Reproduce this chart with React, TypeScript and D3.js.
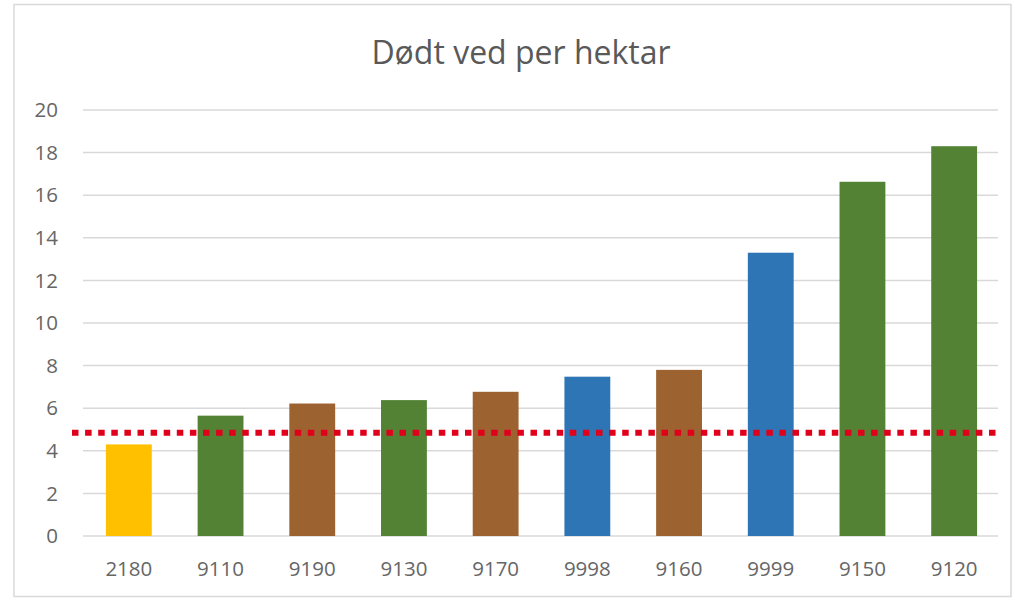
import React from "react";
import * as d3 from "d3";

const categories = ["2180", "9110", "9190", "9130", "9170", "9998", "9160", "9999", "9150", "9120"];
const values = [4.3, 5.65, 6.22, 6.38, 6.77, 7.48, 7.8, 13.3, 16.63, 18.3];
const barColors = ["#FFC000", "#548235", "#9C6331", "#548235", "#9C6331", "#2E75B6", "#9C6331", "#2E75B6", "#548235", "#548235"];
const yTicks = [0, 2, 4, 6, 8, 10, 12, 14, 16, 18, 20];
const referenceValue = 4.85;
const title = "Dødt ved per hektar";

const W = 1015;
const H = 601;
const plot = { left: 83, right: 1000, top: 110, bottom: 536 };

export default function App() {
  const x = d3.scaleBand<string>().domain(categories).range([plot.left, plot.right]).paddingInner(0.5).paddingOuter(0.25);
  const y = d3.scaleLinear().domain([0, 20]).range([plot.bottom, plot.top]);
  const font = "'Open Sans', sans-serif";
  const refLine = d3.line<number>().x((d) => d).y(() => y(referenceValue));
  return (
    <svg width={W} height={H} style={{ position: "fixed", left: 0, top: 0, background: "#fff" }}>
      <rect x={14} y={4.5} width={997} height={592} fill="#fff" stroke="#d9d9d9" strokeWidth={1.5} />
      <text x={521} y={64} textAnchor="middle" fontFamily={font} fontSize={32} fill="#595959">{title}</text>
      {yTicks.map((t) => (
        <g key={t}>
          <line x1={plot.left} x2={plot.right - 2} y1={y(t)} y2={y(t)} stroke="#d9d9d9" strokeWidth={1.5} />
          <text x={58} y={y(t)} dy="0.35em" textAnchor="end" fontFamily={font} fontSize={20.5} fill="#666">{t}</text>
        </g>
      ))}
      {categories.map((c, i) => (
        <rect key={c} x={x(c)} y={y(values[i])} width={x.bandwidth()} height={y(0) - y(values[i])} fill={barColors[i]} />
      ))}
      {categories.map((c) => (
        <text key={c} x={(x(c) ?? 0) + x.bandwidth() / 2} y={569} dy="0.35em" textAnchor="middle" fontFamily={font} fontSize={20.5} fill="#666">{c}</text>
      ))}
      <path d={refLine([72, 999]) ?? ""} stroke="#E0001B" strokeWidth={6} strokeDasharray="6.5 6.6" fill="none" />
    </svg>
  );
}
